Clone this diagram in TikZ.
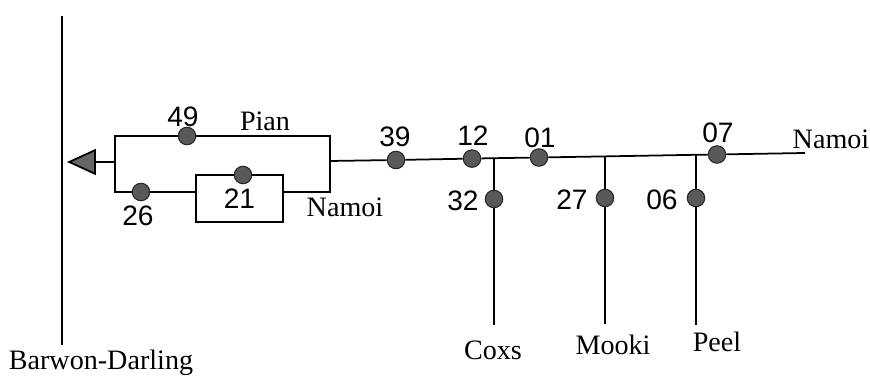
\documentclass[tikz,border=0pt]{standalone}
\usepackage{fontspec}
\setmainfont{Liberation Serif}
\newfontfamily\gaugefont{Liberation Sans}
\usetikzlibrary{arrows.meta,positioning}

\begin{document}
\begin{tikzpicture}[
    x=0.02cm, y=-0.02cm,
    river/.style={draw, line width=1pt},
    gauge/.style={circle, draw=black!85, fill=black!65, line width=0.6pt, inner sep=0pt, minimum size=0.35cm},
    gaugeid/.style={font=\gaugefont\fontsize{16}{18}\selectfont, inner sep=0pt},
    gaugebox/.style={draw, line width=1pt, font=\gaugefont\fontsize{16}{18}\selectfont, minimum width=1.74cm, minimum height=0.94cm, inner sep=0pt},
    rivername/.style={font=\fontsize{16}{18}\selectfont, inner sep=0pt}
]
\useasboundingbox (0,0) rectangle (870,377);

% Barwon-Darling
\coordinate (bdtop) at (62,16);
\coordinate (bdbot) at (62,345);
\node[rivername] (barwon) at (101,363) {Barwon-Darling};
\draw[river] (bdtop) -- (bdbot);

% anabranches
\coordinate (outlet) at (67,162);
\coordinate (split) at (115,162);
\coordinate (pianw) at (115,136);
\coordinate (piane) at (330,136);
\coordinate (namw) at (115,192);
\coordinate (name) at (330,192);
\coordinate (join) at (330,161);

\node[gaugebox] (box21) at (239.5,198.5) {21};
\node[gauge] (g49) at (187,136) {};
\node[gauge] (g26) at (141,192) {};
\node[gauge] (g21) at (243,175) {};

\draw[river] (split) -- (pianw) -- (g49) -- (piane) -- (join);
\draw[river] (split) -- (namw) -- (g26) -- (box21.west |- namw);
\draw[river] (box21.east |- name) -- (name) -- (join);
\draw[river, -{Triangle[length=0.58cm, width=0.52cm, fill=black!60]}] (split) -- (outlet);

\node[gaugeid] (l49) at (183,117) {49};
\node[gaugeid] (l26) at (138,216) {26};
\node[rivername] (pian) at (265,121) {Pian};
\node[rivername] (namoimid) at (345,207) {Namoi};

% Namoi main stem
\coordinate (cjcoxs) at (494,158.2);
\coordinate (cjmooki) at (605,156.4);
\coordinate (cjpeel) at (696,154.8);
\coordinate (namoiend) at (805,153);

\node[gauge] (g39) at (396,160) {};
\node[gauge] (g12) at (472,158.6) {};
\node[gauge] (g01) at (539,157.5) {};
\node[gauge] (g07) at (717,154.5) {};

\draw[river] (join) -- (g39) -- (g12) -- (cjcoxs) -- (g01) -- (cjmooki) -- (cjpeel) -- (g07) -- (namoiend);

\node[gaugeid] (l39) at (395,137) {39};
\node[gaugeid] (l12) at (473,136) {12};
\node[gaugeid] (l01) at (540,138) {01};
\node[gaugeid] (l07) at (718,133) {07};
\node[rivername] (namoiright) at (831,139) {Namoi};

% tributaries
\node[gauge] (g32) at (494,199) {};
\node[gauge] (g27) at (605,198) {};
\node[gauge] (g06) at (696,198) {};
\coordinate (coxsend) at (494,325);
\coordinate (mookiend) at (605,324);
\coordinate (peelend) at (696,325);

\draw[river] (cjcoxs) -- (g32) -- (coxsend);
\draw[river] (cjmooki) -- (g27) -- (mookiend);
\draw[river] (cjpeel) -- (g06) -- (peelend);

\node[gaugeid] (l32) at (463,201) {32};
\node[gaugeid] (l27) at (572,200) {27};
\node[gaugeid] (l06) at (662,200) {06};
\node[rivername] (coxs) at (493,350) {Coxs};
\node[rivername] (mooki) at (613,345) {Mooki};
\node[rivername] (peel) at (717,342) {Peel};

\end{tikzpicture}
\end{document}
